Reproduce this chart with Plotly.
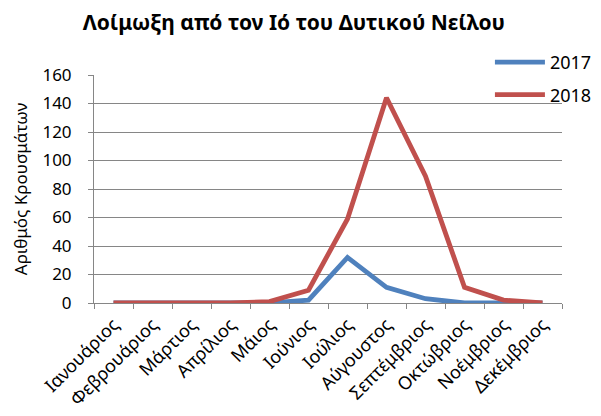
import plotly.graph_objects as go

months = ["Ιανουάριος", "Φεβρουάριος", "Μάρτιος", "Απρίλιος", "Μάιος", "Ιούνιος",
          "Ιούλιος", "Αύγουστος", "Σεπτέμβριος", "Οκτώβριος", "Νοέμβριος", "Δεκέμβριος"]
cases_2017 = [0, 0, 0, 0, 0, 2, 32, 11, 3, 0, 0, 0]
cases_2018 = [0, 0, 0, 0, 1, 9, 59, 144, 89, 11, 2, 0]
y_ticks = [0, 20, 40, 60, 80, 100, 120, 140, 160]

FONT = "Noto Sans"
fig = go.Figure()
fig.add_trace(go.Scatter(x=months, y=cases_2017, mode="lines", name="2017",
                         legendgroup="a",
                         line=dict(color="#4F81BD", width=4.8)))
fig.add_trace(go.Scatter(x=months, y=cases_2018, mode="lines", name="2018",
                         legendgroup="b",
                         line=dict(color="#C0504D", width=4.8)))

fig.update_layout(
    width=593, height=408,
    margin=dict(l=86, r=39, t=67, b=113, autoexpand=False),
    paper_bgcolor="white", plot_bgcolor="white",
    font=dict(family=FONT, size=17, color="black"),
    title=dict(text="<b>Λοίμωξη από τον Ιό του Δυτικού Νείλου</b>",
               x=0.482, xanchor="center", y=0.963, yanchor="middle",
               font=dict(family=FONT, size=21, color="black")),
    legend=dict(x=0.846, xanchor="left", y=1.136, yanchor="top",
                bgcolor="rgba(0,0,0,0)", itemwidth=50,
                font=dict(size=18), tracegroupgap=6),
    showlegend=True,
)
fig.update_xaxes(
    type="category", tickangle=-45, tickson="boundaries", range=[-0.5, 11.5],
    showline=True, linecolor="#868686", linewidth=1,
    ticks="outside", ticklen=5, tickcolor="#868686",
    showgrid=False, tickfont=dict(size=18), ticklabelstandoff=3,
)
fig.update_yaxes(
    range=[0, 160], tickvals=y_ticks,
    showline=True, linecolor="#868686", linewidth=1,
    ticks="outside", ticklen=5, tickcolor="#868686",
    showgrid=True, gridcolor="#868686", gridwidth=1,
    zeroline=False, tickfont=dict(size=17), ticklabelstandoff=13,
    title=dict(text="Αριθμός Κρουσμάτων", font=dict(size=17), standoff=10),
)
fig.write_html("out.html")
